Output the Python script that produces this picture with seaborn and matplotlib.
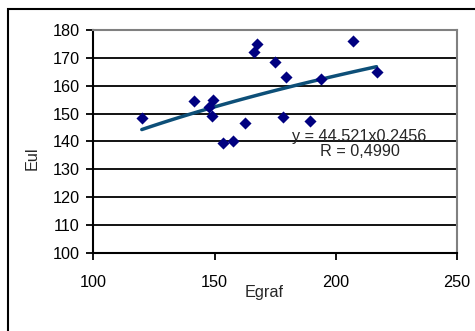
import matplotlib
matplotlib.use("Agg")
import matplotlib.pyplot as plt
import seaborn as sns
import numpy as np
import pandas as pd
from matplotlib.patches import Rectangle

egraf = [120, 141.6, 149.4, 147.8, 149.0, 153.6, 157.7, 162.5, 166.3, 167.6,
         175.0, 179.4, 178.2, 189.4, 194.1, 207.1, 216.8]
eul = [148.6, 154.7, 154.9, 152.5, 149.3, 139.4, 140.1, 146.6, 172.0, 175.0,
       168.4, 163.0, 148.9, 147.5, 162.3, 176.1, 164.8]
fit_a = 44.521
fit_b = 0.2456
eq_label = "y = 44.521x0.2456"
r_label = "R = 0,4990"
x_ticks = [100, 150, 200, 250]
y_ticks = [100, 110, 120, 130, 140, 150, 160, 170, 180]

sns.set_theme(style="white")
plt.rcParams['font.family'] = ['Liberation Sans', 'DejaVu Sans']

FS = 11.7

fig = plt.figure(figsize=(4.75, 3.31), dpi=100)
fig.patches.append(Rectangle((8/475, -0.2), 1.5, 1.2 - 9/331, transform=fig.transFigure,
                             fill=False, edgecolor='black', linewidth=1.5, zorder=0))
ax = fig.add_axes([93.3/475, 1-253/331, (457-93.3)/475, (253-30)/331])

df = pd.DataFrame({"Egraf": egraf, "Eul": eul})
xs = np.linspace(min(egraf), max(egraf), 100)
trend = pd.DataFrame({"x": xs, "y": fit_a * xs ** fit_b})

for yv in y_ticks[1:-1]:
    ax.axhline(yv, color='black', linewidth=1.3, zorder=1)

sns.lineplot(data=trend, x="x", y="y", ax=ax, color='#0d4f78', linewidth=2.5, zorder=3)
sns.scatterplot(data=df, x="Egraf", y="Eul", ax=ax, marker='D', s=38, color='#000080',
                edgecolor='#000080', linewidth=0, zorder=4)

ax.set_xlim(100, 250)
ax.set_ylim(100, 180)
ax.set_xticks(x_ticks)
ax.set_yticks(y_ticks)
ax.tick_params(axis='both', labelsize=FS, colors='black', length=5, width=1.3, direction='out',
               left=True, bottom=True, pad=5)
ax.tick_params(axis='x', pad=11)
for side in ['left', 'bottom']:
    ax.spines[side].set_color('black')
    ax.spines[side].set_linewidth(1.5)
for side in ['top', 'right']:
    ax.spines[side].set_color('#808080')
    ax.spines[side].set_linewidth(1.5)

ax.set_xlabel("Egraf", fontsize=FS)
ax.set_ylabel("Eul", fontsize=FS)
ax.xaxis.label.set_verticalalignment('center')
ax.xaxis.set_label_coords((264-93.3)/(457-93.3), -(293-253)/(253-30))
ax.yaxis.set_label_coords((32-93.3)/(457-93.3), (253-158)/(253-30))
ax.yaxis.label.set_verticalalignment('center')

ax.text(359, 331-137, eq_label, transform=None, ha='center', va='center', fontsize=FS)
ax.text(360, 331-151, r_label, transform=None, ha='center', va='center', fontsize=FS)

fig.savefig("out.png", dpi=100)
